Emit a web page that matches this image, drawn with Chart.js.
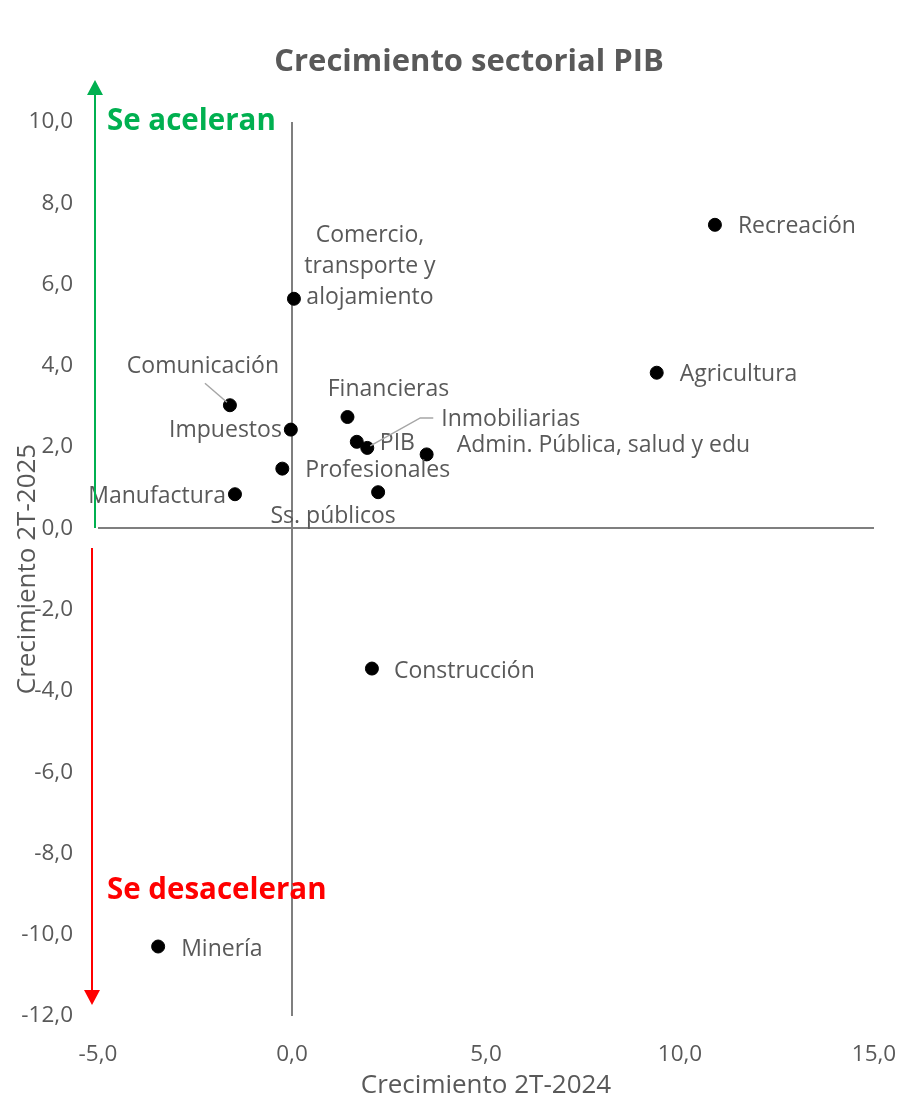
<!DOCTYPE html>
<html>
<head>
<meta charset="utf-8">
<script src="https://cdn.jsdelivr.net/npm/chart.js@4.4.1/dist/chart.umd.min.js"></script>
<style>
  html, body { margin: 0; padding: 0; background: #fff; }
  #wrap { width: 924px; height: 1110px; }
</style>
</head>
<body>
<div id="wrap"><canvas id="sectorChart" width="924" height="1110"></canvas></div>
<script>
// Datos
const sectors = [
  "Recreación", "Agricultura", "Comercio, transporte y alojamiento", "Comunicación",
  "Impuestos", "Financieras", "PIB", "Inmobiliarias", "Admin. Pública, salud y edu",
  "Profesionales", "Manufactura", "Ss. públicos", "Construcción", "Minería"
];
const growth2T2024 = [10.9, 9.4, 0.05, -1.6, -0.03, 1.43, 1.67, 1.94, 3.47, -0.25, -1.47, 2.22, 2.06, -3.45];
const growth2T2025 = [7.47, 3.83, 5.65, 3.03, 2.43, 2.74, 2.13, 1.98, 1.82, 1.47, 0.84, 0.89, -3.45, -10.29];
const xTicks = [-5, 0, 5, 10, 15];
const yTicks = [-12, -10, -8, -6, -4, -2, 0, 2, 4, 6, 8, 10];

// Colocación de etiquetas (desplazamiento en px respecto al punto)
const labelPlacement = {
  "Recreación": { dx: 23, dy: 2, align: "left" },
  "Agricultura": { dx: 23, dy: 2, align: "left" },
  "Comercio, transporte y alojamiento": { dx: 76, dy: -63, align: "center",
    lines: ["Comercio,", "transporte y", "alojamiento"] },
  "Comunicación": { dx: -27, dy: -39, align: "center", leader: [[-25, -22], [-3, -3]] },
  "Impuestos": { dx: -9, dy: 1, align: "right" },
  "Financieras": { dx: 41, dy: -28, align: "center" },
  "PIB": { dx: 23, dy: 2, align: "left" },
  "Inmobiliarias": { dx: 74, dy: -28, align: "left", leader: [[66, -30], [53, -30], [3, -2]] },
  "Admin. Pública, salud y edu": { dx: 30, dy: -9, align: "left" },
  "Profesionales": { dx: 23, dy: 2, align: "left" },
  "Manufactura": { dx: -9, dy: 2, align: "right" },
  "Ss. públicos": { dx: -45, dy: 24, align: "center" },
  "Construcción": { dx: 22, dy: 3, align: "left" },
  "Minería": { dx: 23, dy: 3, align: "left" }
};

const FONT = "'Open Sans', 'DejaVu Sans', sans-serif";
const GRAY = "#595959";
const fmt = (v) => v.toFixed(1).replace(".", ",");

const points = sectors.map((s, i) => ({ x: growth2T2024[i], y: growth2T2025[i], name: s }));

const labelsPlugin = {
  id: "pointLabels",
  afterDatasetsDraw(chart) {
    const ctx = chart.ctx;
    const meta = chart.getDatasetMeta(0);
    ctx.save();
    ctx.font = "23px " + FONT;
    ctx.fillStyle = GRAY;
    ctx.textBaseline = "middle";
    meta.data.forEach((el, i) => {
      const p = labelPlacement[sectors[i]];
      if (!p) return;
      if (p.leader) {
        ctx.strokeStyle = "#a6a6a6";
        ctx.lineWidth = 1.5;
        ctx.beginPath();
        p.leader.forEach(([lx, ly], k) => {
          if (k === 0) ctx.moveTo(el.x + lx, el.y + ly);
          else ctx.lineTo(el.x + lx, el.y + ly);
        });
        ctx.stroke();
      }
      ctx.textAlign = p.align;
      const lines = p.lines || [sectors[i]];
      lines.forEach((ln, k) => {
        ctx.fillText(ln, el.x + p.dx, el.y + p.dy + k * 31);
      });
    });
    ctx.restore();
  }
};

const decorPlugin = {
  id: "decor",
  afterDraw(chart) {
    const ctx = chart.ctx;
    const area = chart.chartArea;
    ctx.save();
    // título
    ctx.fillStyle = GRAY;
    ctx.font = "bold 31px " + FONT;
    ctx.textAlign = "center";
    ctx.textBaseline = "middle";
    ctx.fillText("Crecimiento sectorial PIB", 469, 62);

    // títulos de ejes
    ctx.font = "26px " + FONT;
    ctx.fillText("Crecimiento 2T-2024", (area.left + area.right) / 2, 1086);
    ctx.save();
    ctx.translate(28, (area.top + area.bottom) / 2);
    ctx.rotate(-Math.PI / 2);
    ctx.fillText("Crecimiento 2T-2025", 0, 0);
    ctx.restore();

    // flecha verde
    ctx.strokeStyle = "#00b050";
    ctx.fillStyle = "#00b050";
    ctx.lineWidth = 2;
    ctx.beginPath();
    ctx.moveTo(95, 528);
    ctx.lineTo(95, 92);
    ctx.stroke();
    ctx.beginPath();
    ctx.moveTo(95, 80);
    ctx.lineTo(87, 95);
    ctx.lineTo(103, 95);
    ctx.closePath();
    ctx.fill();

    // flecha roja
    ctx.strokeStyle = "#ff0000";
    ctx.fillStyle = "#ff0000";
    ctx.beginPath();
    ctx.moveTo(92, 548);
    ctx.lineTo(92, 993);
    ctx.stroke();
    ctx.beginPath();
    ctx.moveTo(92, 1005);
    ctx.lineTo(84, 990);
    ctx.lineTo(100, 990);
    ctx.closePath();
    ctx.fill();

    ctx.textAlign = "left";
    ctx.font = "bold 29.5px " + FONT;
    ctx.fillStyle = "#00b050";
    ctx.fillText("Se aceleran", 107, 122);
    ctx.fillStyle = "#ff0000";
    ctx.fillText("Se desaceleran", 107, 891);
    ctx.restore();
  }
};

const zeroLine = (c) => (c.tick && c.tick.value === 0 ? "#7f7f7f" : "rgba(0,0,0,0)");

new Chart(document.getElementById("sectorChart"), {
  type: "scatter",
  data: {
    datasets: [{
      data: points,
      backgroundColor: "#000000",
      borderColor: "#000000",
      pointRadius: 6.5,
      pointHoverRadius: 6.5
    }]
  },
  options: {
    responsive: false,
    animation: false,
    layout: { padding: { top: 122, right: 50, left: 0, bottom: 0 } },
    plugins: { legend: { display: false }, tooltip: { enabled: false } },
    scales: {
      x: {
        type: "linear",
        min: -5,
        max: 15,
        afterBuildTicks: (s) => { s.ticks = xTicks.map((v) => ({ value: v })); },
        afterFit: (s) => { s.height = 94; },
        border: { display: false },
        grid: { color: zeroLine, lineWidth: 2, drawTicks: false },
        ticks: { padding: 25, color: GRAY, font: { family: FONT, size: 22.5 }, callback: (v) => fmt(v), maxRotation: 0 }
      },
      y: {
        type: "linear",
        min: -12,
        max: 10,
        afterBuildTicks: (s) => { s.ticks = yTicks.map((v) => ({ value: v })); },
        afterFit: (s) => { s.width = 98; },
        border: { display: false },
        grid: { color: zeroLine, lineWidth: 2, drawTicks: false },
        ticks: { padding: 25, color: GRAY, font: { family: FONT, size: 22.5 }, callback: (v) => fmt(v) }
      }
    }
  },
  plugins: [labelsPlugin, decorPlugin]
});
</script>
</body>
</html>
